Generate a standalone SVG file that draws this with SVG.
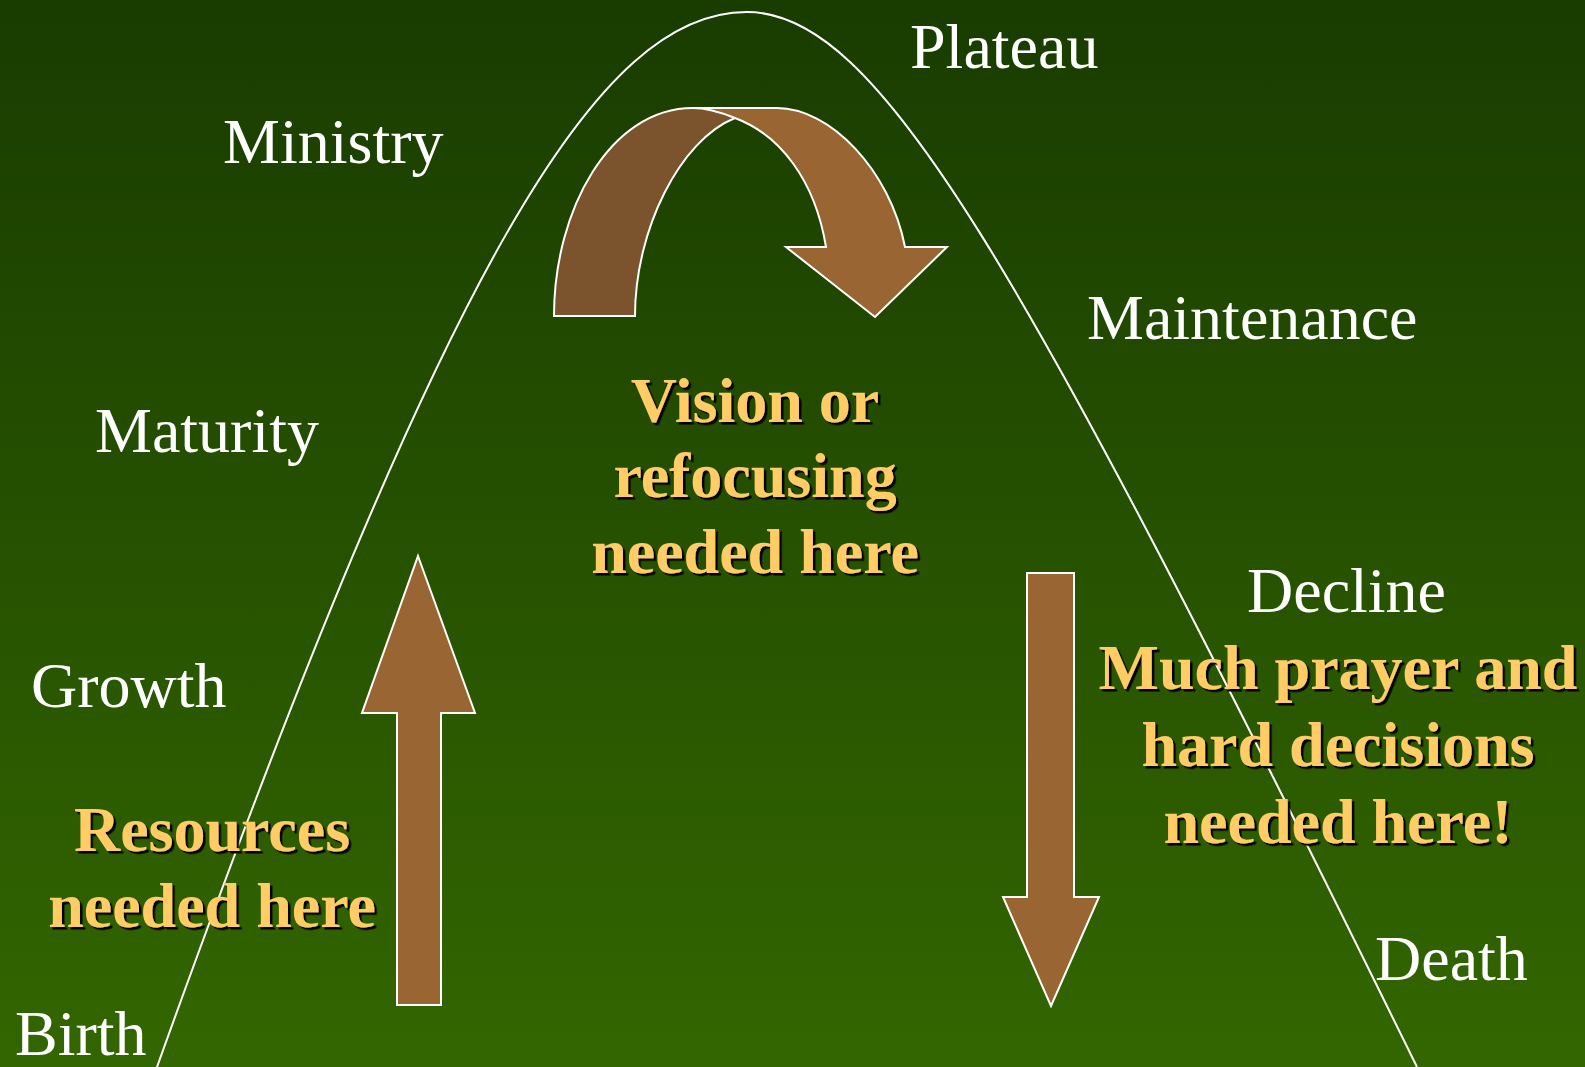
<svg xmlns="http://www.w3.org/2000/svg" width="1585" height="1067" viewBox="0 0 1585 1067">
<defs>
<linearGradient id="bg" x1="0" y1="0" x2="0" y2="1">
<stop offset="0" stop-color="#193c00"/>
<stop offset="1" stop-color="#336600"/>
</linearGradient>
<filter id="sh" x="-5%" y="-5%" width="110%" height="120%">
<feDropShadow dx="2.5" dy="2.5" stdDeviation="0" flood-color="#000" flood-opacity="1"/>
</filter>
<style>
.lbl{font-family:"Liberation Serif","Times New Roman",serif;font-size:64px;fill:#ffffff}
.note{font-family:"Liberation Serif","Times New Roman",serif;font-size:64px;font-weight:bold;fill:#ffcc66;text-anchor:middle;filter:url(#sh)}
.arr{fill:#996633;stroke:#ffffff;stroke-width:2;stroke-linejoin:miter}
.arrdark{fill:#7b532c;stroke:#ffffff;stroke-width:2}
.curve{fill:none;stroke:#ffffff;stroke-width:2}
</style>
</defs>
<rect x="0" y="0" width="1585" height="1067" fill="url(#bg)"/>
<g id="connectors">
<path id="lifecycle-curve" class="curve" d="M157,1067 C450,250 600,12 747,12 C877,12 1015,250 1417,1067"/>
</g>
<g id="curved-arrow">
<path class="arrdark" d="M554,316 C554,210 610,108 693,108 L740,108 L735,118 C680,140 635,230 635,316 Z"/>
<path class="arr" d="M693,108 L777,108 C830,108 890,170 905,247 L947,247 L875,317 L786,247 L826,247 C815,180 780,135 735,118 C720,112 705,108 693,108 Z"/>
</g>
<g id="up-arrow">
<path class="arr" d="M418,556 L475,713 L441,713 L441,1005 L397,1005 L397,713 L362,713 Z"/>
</g>
<g id="down-arrow">
<path class="arr" d="M1027,573 L1074,573 L1074,897 L1099,897 L1051,1006 L1003,897 L1027,897 Z"/>
</g>
<g id="label-plateau"><text class="lbl" x="910" y="68">Plateau</text></g>
<g id="label-ministry"><text class="lbl" x="223" y="163">Ministry</text></g>
<g id="label-maintenance"><text class="lbl" x="1087" y="339">Maintenance</text></g>
<g id="label-maturity"><text class="lbl" x="95" y="452">Maturity</text></g>
<g id="label-decline"><text class="lbl" x="1247" y="612">Decline</text></g>
<g id="label-growth"><text class="lbl" x="31" y="707">Growth</text></g>
<g id="label-death"><text class="lbl" x="1375" y="980">Death</text></g>
<g id="label-birth"><text class="lbl" x="15" y="1055">Birth</text></g>
<g id="note-vision">
<text class="note" x="755" y="422">Vision or</text>
<text class="note" x="755" y="497">refocusing</text>
<text class="note" x="755" y="573">needed here</text>
</g>
<g id="note-resources">
<text class="note" x="212" y="851">Resources</text>
<text class="note" x="212" y="927">needed here</text>
</g>
<g id="note-prayer">
<text class="note" x="1338" y="689">Much prayer and</text>
<text class="note" x="1338" y="766">hard decisions</text>
<text class="note" x="1338" y="843">needed here!</text>
</g>
</svg>
